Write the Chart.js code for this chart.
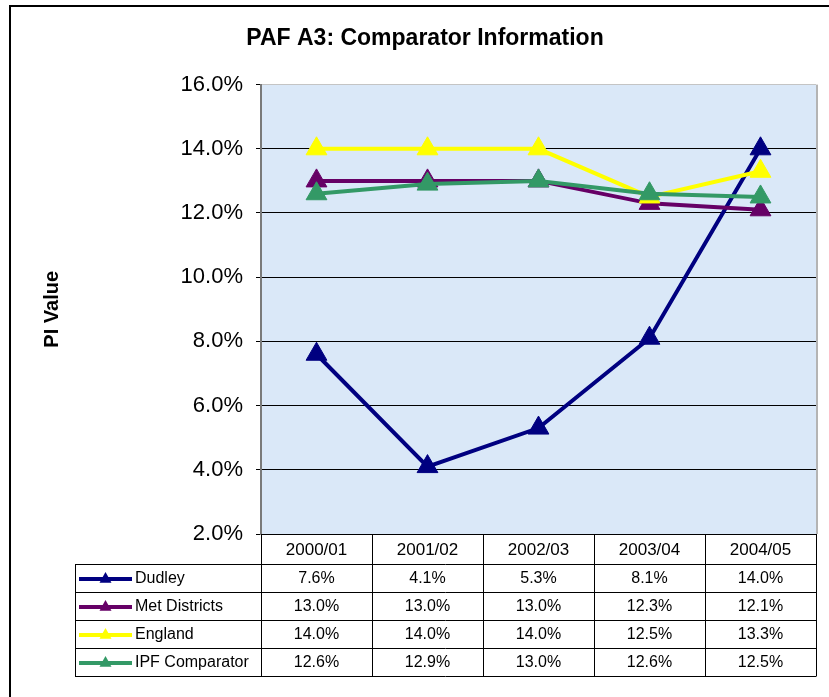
<!DOCTYPE html>
<html>
<head>
<meta charset="utf-8">
<script src="https://cdn.jsdelivr.net/npm/chart.js@4.4.1/dist/chart.umd.min.js"></script>
<style>
  html, body { margin: 0; padding: 0; background: #fff; }
  #frame { position: absolute; left: 9px; top: 5px; width: 900px; height: 900px; border-left: 2px solid #000; border-top: 2px solid #000; }
  #wrap { position: absolute; left: 0; top: 0; width: 829px; height: 697px; }
</style>
</head>
<body>
<div id="frame"></div>
<div id="wrap"><canvas id="paChart"></canvas></div>
<script>
const labels = ['2000/01', '2001/02', '2002/03', '2003/04', '2004/05'];
const series = [
    { name: 'Dudley', color: '#000080', values: [7.6, 4.1, 5.3, 8.1, 14.0] },
    { name: 'Met Districts', color: '#660066', values: [13.0, 13.0, 13.0, 12.3, 12.1] },
    { name: 'England', color: '#ffff00', values: [14.0, 14.0, 14.0, 12.5, 13.3] },
    { name: 'IPF Comparator', color: '#339966', values: [12.6, 12.9, 13.0, 12.6, 12.5] }
];
const FONT = '"Liberation Sans", Arial, sans-serif';

// plot area fill + right edge shade
const plotBg = {
    id: 'plotBg',
    beforeDraw(chart) {
        const { ctx, chartArea: a } = chart;
        ctx.save();
        ctx.fillStyle = '#dae8f8';
        ctx.fillRect(a.left, a.top, a.right - a.left, a.bottom - a.top);
        ctx.fillStyle = '#b4b4b4';
        ctx.fillRect(a.right, a.top, 2, a.bottom - a.top);
        ctx.restore();
    }
};

function triangle(ctx, x, y, r, color) {
    ctx.beginPath();
    ctx.moveTo(x, y - r);
    ctx.lineTo(x + r, y + r * 0.8);
    ctx.lineTo(x - r, y + r * 0.8);
    ctx.closePath();
    ctx.fillStyle = color;
    ctx.fill();
}

// data table under the plot
const dataTable = {
    id: 'dataTable',
    afterDraw(chart) {
        const { ctx, chartArea: a, scales: { x } } = chart;
        const colW = (a.right - a.left) / labels.length;
        const headH = 30, rowH = 28, tableLeft = 75;
        const top = a.bottom;
        const bottom = top + headH + rowH * series.length;
        ctx.save();
        ctx.strokeStyle = '#000';
        ctx.lineWidth = 1;
        ctx.beginPath();
        // horizontal lines
        ctx.moveTo(a.left, top + 0.5); ctx.lineTo(a.right, top + 0.5);
        for (let r = 0; r <= series.length; r++) {
            const y = Math.round(top + headH + r * rowH) + 0.5;
            ctx.moveTo(tableLeft, y); ctx.lineTo(a.right, y);
        }
        // vertical lines
        ctx.moveTo(tableLeft + 0.5, top + headH); ctx.lineTo(tableLeft + 0.5, bottom + 0.5);
        for (let c = 0; c <= labels.length; c++) {
            const xx = Math.round(a.left + c * colW) + 0.5;
            ctx.moveTo(xx, top); ctx.lineTo(xx, bottom + 0.5);
        }
        ctx.stroke();

        ctx.fillStyle = '#000';
        ctx.textAlign = 'center';
        ctx.textBaseline = 'middle';
        ctx.font = '17px ' + FONT;
        labels.forEach((l, i) => ctx.fillText(l, x.getPixelForTick(i), top + headH / 2 + 1));
        series.forEach((s, r) => {
            const cy = top + headH + r * rowH + rowH / 2 + 1;
            ctx.fillStyle = '#000';
            ctx.textAlign = 'center';
            ctx.font = '16px ' + FONT;
            s.values.forEach((v, i) => ctx.fillText(v.toFixed(1) + '%', x.getPixelForTick(i), cy));
            // legend key
            ctx.strokeStyle = s.color;
            ctx.lineWidth = 4;
            ctx.beginPath();
            ctx.moveTo(79, cy); ctx.lineTo(132, cy);
            ctx.stroke();
            triangle(ctx, 105.5, cy - 1, 6, s.color);
            ctx.fillStyle = '#000';
            ctx.textAlign = 'left';
            ctx.font = '16px ' + FONT;
            ctx.fillText(s.name, 135, cy);
        });
        ctx.restore();
    }
};

const ctx = document.getElementById('paChart').getContext('2d');
const paChart = new Chart(ctx, {
    type: 'line',
    data: {
        labels: labels,
        datasets: series.map((s, i) => ({
            label: s.name,
            data: s.values,
            borderColor: s.color,
            backgroundColor: s.color,
            borderWidth: 4,
            pointStyle: 'triangle',
            pointRadius: 12,
            pointBorderWidth: 1,
            pointBorderColor: s.color,
            pointBackgroundColor: s.color,
            tension: 0,
            order: series.length - i
        }))
    },
    options: {
        responsive: true,
        maintainAspectRatio: false,
        animation: false,
        layout: { padding: { left: 33, right: 12, top: 0, bottom: 163 } },
        plugins: {
            legend: { display: false },
            tooltip: { enabled: false },
            title: {
                display: true,
                text: 'PAF A3: Comparator Information',
                color: '#000',
                font: { family: FONT, size: 23, weight: 'bold' },
                padding: { top: 25, bottom: 32 }
            }
        },
        scales: {
            x: { display: false, offset: true },
            y: {
                min: 2, max: 16,
                afterFit(scale) { scale.width = 228; },
                ticks: {
                    stepSize: 2,
                    color: '#000',
                    padding: 13,
                    font: { family: FONT, size: 22 },
                    callback: v => v.toFixed(1) + '%'
                },
                grid: {
                    color: c => (c.tick && c.tick.value === 16) ? '#c4c4c4' : '#000',
                    tickColor: '#000',
                    tickLength: 5,
                    lineWidth: 1
                },
                border: { display: true, color: '#7a7a7a', width: 2 },
                title: {
                    display: true,
                    text: 'PI Value',
                    color: '#000',
                    font: { family: FONT, size: 20, weight: 'bold' },
                    padding: { top: 7, bottom: 0 }
                }
            }
        }
    },
    plugins: [plotBg, dataTable]
});
</script>
</body>
</html>
